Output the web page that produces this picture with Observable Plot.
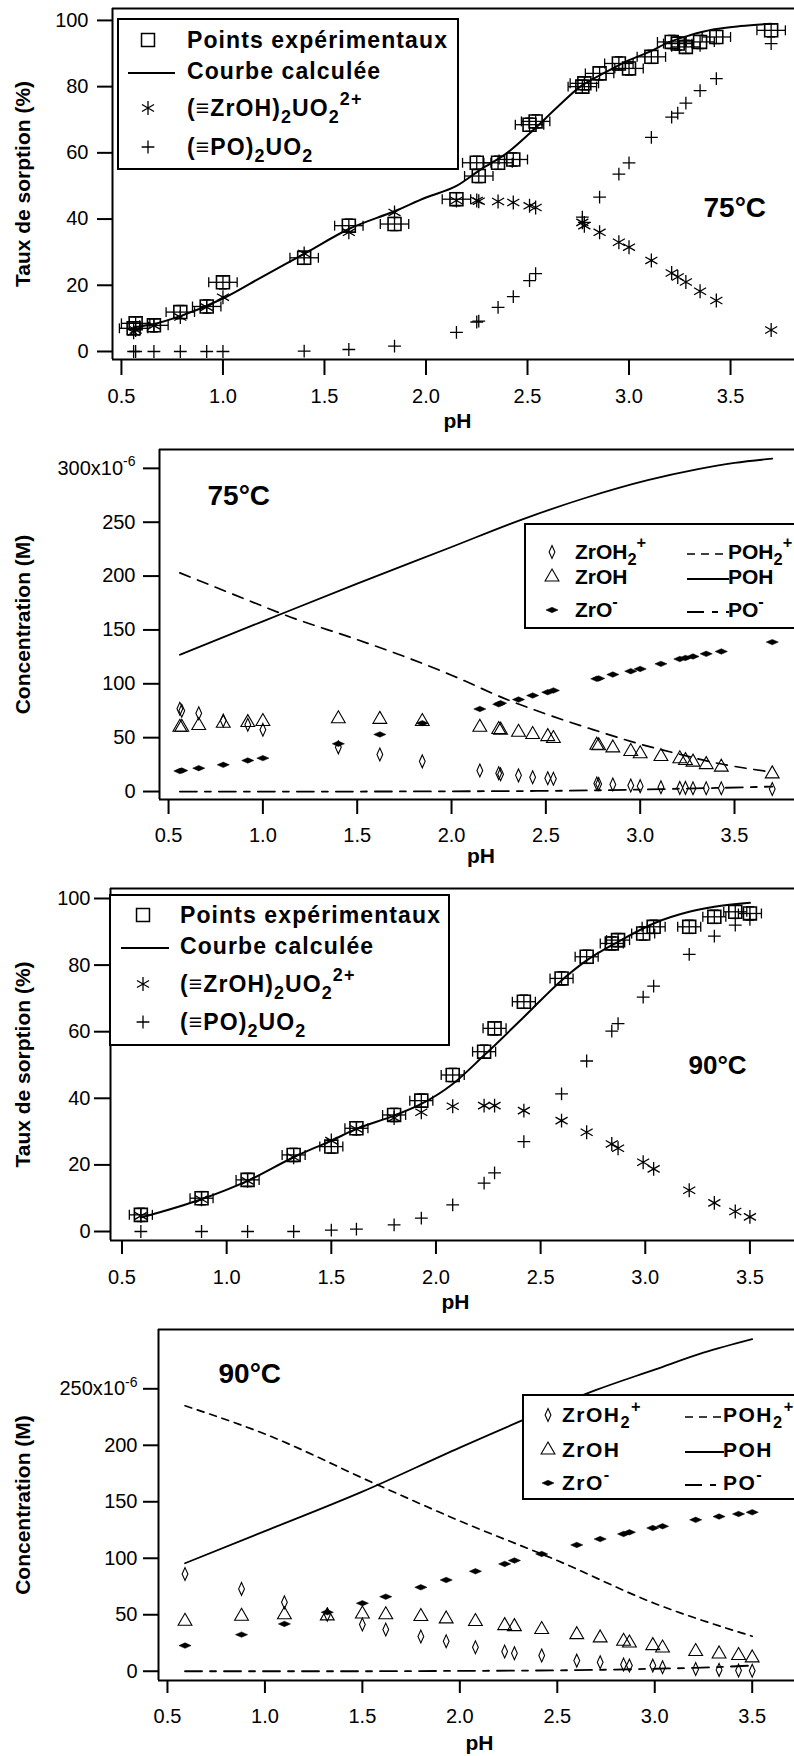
<!DOCTYPE html>
<html><head><meta charset="utf-8">
<script src="https://cdn.jsdelivr.net/npm/d3@7"></script>
<script src="https://cdn.jsdelivr.net/npm/@observablehq/plot@0.6"></script>
<style>
body{margin:0;overflow:hidden;background:#fff}
#wrap{position:relative;width:794px;height:1756px;font-family:"Liberation Sans",Arial,sans-serif;color:#000}
.panel{position:absolute;left:0}
.legend{position:absolute;box-sizing:border-box;border:2px solid #000;background:#fff;overflow:hidden}
.row{position:absolute;height:26px;line-height:26px;white-space:nowrap;font-weight:bold}
.sub{font-size:0.78em;position:relative;top:0.38em}
.sup{font-size:0.78em;position:relative;top:-0.62em}
.sym{position:absolute;width:0;height:0}
</style></head><body><div id="wrap"></div>
<script>
// ---------- tick labels ----------
const xTicks = [0.5, 1.0, 1.5, 2.0, 2.5, 3.0, 3.5];
const sorptionTicks = [0, 20, 40, 60, 80, 100];
const concTicks75 = [0, 50, 100, 150, 200, 250, 300];
const concTicks90 = [0, 50, 100, 150, 200, 250];

// ---------- 75 °C ----------
const pH75 = [0.56,0.57,0.66,0.79,0.92,1.00,1.40,1.62,1.845,2.15,2.25,2.26,2.355,2.43,2.51,2.54,2.77,2.78,2.855,2.95,3.00,3.11,3.21,3.24,3.28,3.35,3.43,3.70];
const exp75 = [7.0,8.5,7.9,11.9,13.6,20.9,28.3,38.0,38.5,46.0,57.0,53.0,57.0,58.0,68.5,69.5,80.0,81.0,84.0,87.0,85.5,89.0,93.5,93.0,92.0,93.5,95.0,97.0];
const zrU75 = [5.8,6.5,7.8,10.4,13.4,16.4,29.6,36.0,42.0,45.6,45.6,45.4,45.3,45.0,44.0,43.5,39.0,38.0,36.0,33.0,31.5,27.5,23.7,22.5,21.0,18.2,15.4,6.5];
const poU75 = [0,0,0,0,0,0,0.1,0.6,1.6,5.8,8.9,9.2,13.3,16.6,21.4,23.5,40.6,39.0,46.6,53.6,57.0,64.7,70.8,72.0,75.0,78.8,82.4,93.0];
const calcPH75 = [0.56,0.66,0.8,1.0,1.2,1.4,1.62,1.85,2.0,2.15,2.27,2.4,2.53,2.65,2.76,2.89,3.0,3.1,3.2,3.3,3.42,3.55,3.7];
const calc75 = [7.3,8.3,10.9,16,22.8,29.5,37,42.5,46.5,50,55,60,67,74,80,84.5,88,90.5,93.5,95.5,97.3,98.3,99];

const zrOH2_75 = [76.8,75.0,72.7,66.0,62.0,57.3,41.0,34.4,28.0,19.5,17.0,16.0,15.0,13.3,12.3,11.8,7.5,7.0,6.5,5.6,5.0,4.0,3.4,3.4,3.0,3.0,3.0,2.4];
const zrOH_75 = [59.7,59.7,61.3,63.4,64.0,65.0,67.5,67.0,65.0,59.6,57.6,57.0,55.0,52.9,51.0,49.2,43.0,42.5,40.5,37.1,35.0,32.5,30.4,28.8,27.3,25.0,22.6,16.4];
const zrO_75 = [19.0,19.5,21.7,24.8,28.8,31.0,44.3,53.0,63.4,76.6,81.0,82.0,85.4,89.1,92.2,93.8,104.6,105.0,108.6,111.7,113.8,118.5,123.0,124.0,125.4,127.8,130.0,138.7];
const pohPH75 = [0.56,1.0,1.5,2.0,2.365,2.7,3.04,3.3,3.5,3.7];
const poh75 = [127,158,193,227,252,272,289,299,305,309];
const poh2PH75 = [0.56,1.0,1.1,1.5,1.74,2.0,2.3,2.5,2.75,3.0,3.2,3.39,3.7];
const poh2_75 = [203,172,165,141,126,108,85,72,57.5,44,35,27,18];
const poPH75 = [0.56,1.0,1.5,2.0,2.5,2.8,3.0,3.2,3.4,3.7];
const po75 = [0,0,0,0.2,0.6,1.2,1.8,2.6,3.3,4.6];

// ---------- 90 °C ----------
const pH90 = [0.59,0.88,1.10,1.32,1.50,1.62,1.80,1.93,2.08,2.23,2.28,2.42,2.60,2.72,2.84,2.87,2.99,3.04,3.21,3.33,3.43,3.50];
const exp90 = [5,10,15.5,23,25.5,31,35,39.3,47,54,61,69,76,82.5,86.5,87.5,89.5,91.5,91.5,94.5,96,95.5];
const zrU90 = [4.7,9.7,15.2,22.3,27.3,30.8,34.1,35.8,37.6,37.8,37.8,36.3,33.3,29.8,26.3,25,20.8,18.8,12.4,8.6,6,4.4];
const poU90 = [0,0,0,0,0.4,0.7,2,4,8,14.5,17.6,27,41.3,51.2,60.2,62.4,70.4,73.7,83.2,88.7,92,93.7];
const calcPH90 = [0.59,0.88,1.10,1.32,1.5,1.62,1.8,1.93,2.08,2.23,2.42,2.6,2.72,2.87,3.04,3.21,3.33,3.5];
const calc90 = [4.2,9.7,15.2,22.3,27.3,30.8,34.8,38.3,44.3,52.9,64.4,75.4,81.4,87,92.5,96,97.5,98.7];

const zrOH2_90 = [86,72.9,61,50,41.3,36.9,30.7,26.5,21.2,17.4,15.9,13.9,9.4,8,5.9,5,5,3.5,2,1.2,0.6,0.5];
const zrOH_90 = [44.2,48.7,50,49,50.7,50,48.4,46.3,44,40.4,39.5,36.9,32.4,29.5,26.5,25,22.7,20.6,17.4,15.3,13.9,11.8];
const zrO_90 = [22.7,32.4,41.9,52.2,60.2,66,74.3,80.8,88.5,95,98,103.8,111.8,117,121.5,123,126.8,128.3,134,136.9,139.2,140.7];
const pohPH90 = [0.59,1.0,1.5,2.0,2.32,2.7,3.0,3.25,3.5];
const poh90 = [95.6,124,159,198,222,249,267,282,294];
const poh2PH90 = [0.59,1.0,1.565,2.0,2.5,3.0,3.5];
const poh2_90 = [235,210,166,133,98,60,31];
const poPH90 = [0.59,1.0,1.5,2.0,2.5,2.8,3.0,3.2,3.5];
const po90 = [0,0,0,0.3,0.8,1.5,2.2,3,5];

// ---------- symbols ----------
const lozenge = {draw(ctx, size){const h=Math.sqrt(size)*0.55,w=h*0.45;ctx.moveTo(0,-h);ctx.lineTo(w,0);ctx.lineTo(0,h);ctx.lineTo(-w,0);ctx.closePath();}};
const flatDiamond = {draw(ctx, size){const w=Math.sqrt(size)*0.52,h=w*0.45;ctx.moveTo(-w,0);ctx.lineTo(0,-h);ctx.lineTo(w,0);ctx.lineTo(0,h);ctx.closePath();}};

const FONT = "'Liberation Sans', Arial, sans-serif";
const pts = (xs, ys) => xs.map((x, i) => ({x, y: ys[i]}));
const wrap = document.getElementById("wrap");

function frameMarks(o) {
  return [
    Plot.ruleY([o.yDomain[0], o.yDomain[1]], {stroke: "black", strokeWidth: 2}),
    Plot.ruleX([o.xDomain[0]], {stroke: "black", strokeWidth: 2}),
    Plot.axisX({ticks: xTicks, tickFormat: d3.format(".1f"), tickSize: o.xts, tickPadding: o.xtp, strokeWidth: 2, label: null}),
    Plot.text(["pH"], {frameAnchor: "bottom", dy: o.pHdy, dx: o.pHdx, lineAnchor: "middle", textAnchor: "middle", fontWeight: "bold", fontSize: 21}),
    Plot.text([o.yLabel], {frameAnchor: "left", rotate: -90, dx: o.yLabDx, textAnchor: "middle", lineAnchor: "middle", fontWeight: "bold", fontSize: 21}),
    Plot.text([o.temp], {frameAnchor: "top-left", dx: o.tDx, dy: o.tDy, textAnchor: "start", lineAnchor: "top", fontWeight: "bold", fontSize: o.tSize})
  ];
}

function sorptionPlot(o) {
  const exp = pts(o.pH, o.exp), zr = pts(o.pH, o.zr), po = pts(o.pH, o.po), calc = pts(o.cPH, o.calc);
  const ex = o.ex, ey = 2, cy = 1.5, cx = 0.02;
  const L = {stroke: "black", strokeWidth: 1.3};
  return Plot.plot({
    width: 794, height: o.height, marginLeft: o.mL, marginRight: 0, marginTop: o.mT, marginBottom: o.mB,
    x: {domain: o.xDomain}, y: {domain: o.yDomain},
    style: {fontFamily: FONT, fontSize: "20px", color: "black", background: "white", overflow: "visible"},
    marks: [
      ...frameMarks(o),
      Plot.axisY({ticks: sorptionTicks, tickSize: o.yts, tickPadding: o.ytp, strokeWidth: 2, label: null}),
      Plot.line(calc, {x: "x", y: "y", stroke: "black", strokeWidth: 2, curve: "monotone-x"}),
      Plot.link(exp, {x1: d => d.x - ex, x2: d => d.x + ex, y1: "y", y2: "y", ...L}),
      Plot.link(exp, {x1: d => d.x - ex, x2: d => d.x - ex, y1: d => d.y - cy, y2: d => d.y + cy, ...L}),
      Plot.link(exp, {x1: d => d.x + ex, x2: d => d.x + ex, y1: d => d.y - cy, y2: d => d.y + cy, ...L}),
      Plot.link(exp, {x1: "x", x2: "x", y1: d => d.y - ey, y2: d => d.y + ey, ...L}),
      Plot.link(exp, {x1: d => d.x - cx, x2: d => d.x + cx, y1: d => d.y - ey, y2: d => d.y - ey, ...L}),
      Plot.link(exp, {x1: d => d.x - cx, x2: d => d.x + cx, y1: d => d.y + ey, y2: d => d.y + ey, ...L}),
      Plot.dot(exp, {x: "x", y: "y", symbol: d3.symbolSquare, r: 7.3, stroke: "black", fill: "none", strokeWidth: 1.6}),
      Plot.dot(zr, {x: "x", y: "y", symbol: d3.symbolAsterisk, r: 6.6, stroke: "black", strokeWidth: 1.3}),
      Plot.dot(po, {x: "x", y: "y", symbol: d3.symbolPlus, r: 4.2, stroke: "black", strokeWidth: 1.3})
    ]
  });
}

function concPlot(o) {
  const top = o.ticks[o.ticks.length - 1];
  const svg = Plot.plot({
    width: 794, height: o.height, marginLeft: o.mL, marginRight: 0, marginTop: o.mT, marginBottom: o.mB,
    x: {domain: o.xDomain}, y: {domain: o.yDomain},
    style: {fontFamily: FONT, fontSize: "20px", color: "black", background: "white", overflow: "visible"},
    marks: [
      ...frameMarks(o),
      Plot.axisY({ticks: o.ticks, tickSize: o.yts, tickPadding: o.ytp, strokeWidth: 2, label: null,
        tickFormat: d => d === top ? `${d}x10` : `${d}`}),
      Plot.line(pts(o.poh2PH, o.poh2), {x: "x", y: "y", stroke: "black", strokeWidth: 1.7, strokeDasharray: o.dash, curve: "monotone-x"}),
      Plot.line(pts(o.pohPH, o.poh), {x: "x", y: "y", stroke: "black", strokeWidth: 1.8, curve: "monotone-x"}),
      Plot.line(pts(o.poPH, o.po), {x: "x", y: "y", stroke: "black", strokeWidth: 1.8, strokeDasharray: "17,8,6,8", curve: "monotone-x"}),
      Plot.dot(pts(o.pH, o.zrOH2), {x: "x", y: "y", symbol: lozenge, r: 6.6, stroke: "black", fill: "none", strokeWidth: 1.1}),
      Plot.dot(pts(o.pH, o.zrOH), {x: "x", y: "y", symbol: d3.symbolTriangle2, r: 6.6, stroke: "black", fill: "none", strokeWidth: 1.1}),
      Plot.dot(pts(o.pH, o.zrO), {x: "x", y: "y", symbol: flatDiamond, r: 6.6, fill: "black", stroke: "black", strokeWidth: 0.5})
    ]
  });
  svg.querySelectorAll("text").forEach(t => {
    if (/x10$/.test(t.textContent)) {
      const ts = document.createElementNS("http://www.w3.org/2000/svg", "tspan");
      ts.setAttribute("dy", "-0.6em");
      ts.setAttribute("font-size", "14");
      ts.textContent = "-6";
      t.appendChild(ts);
    }
  });
  return svg;
}

function addPanel(top, svg) {
  const d = document.createElement("div");
  d.className = "panel"; d.style.top = top + "px";
  d.appendChild(svg); wrap.appendChild(d);
}

// ---------- legends ----------
function symSvg(type, r, fill, stroke, sw) {
  const p = d3.symbol(type, r * r * Math.PI)();
  return `<svg width="30" height="30" viewBox="-15 -15 30 30" style="position:absolute;left:-15px;top:-15px;overflow:visible"><path d="${p}" fill="${fill}" stroke="${stroke}" stroke-width="${sw}"/></svg>`;
}
function lineSvg(x1, x2, cy, dash, sw) {
  return `<svg style="position:absolute;left:${x1}px;top:${cy - 5}px;overflow:visible" width="${x2 - x1}" height="10"><line x1="0" x2="${x2 - x1}" y1="5" y2="5" stroke="black" stroke-width="${sw}" ${dash ? `stroke-dasharray="${dash}"` : ""}/></svg>`;
}
function legend(o) {
  const d = document.createElement("div");
  d.className = "legend";
  Object.assign(d.style, {left: o.left + "px", top: o.top + "px", width: o.width + "px", height: o.height + "px",
    fontSize: o.fontSize + "px", letterSpacing: o.ls + "px"});
  let html = "";
  for (const r of o.rows) {
    if (r.sym) html += `<div class="sym" style="left:${r.sx - 2}px;top:${r.cy - 2}px">${r.sym}</div>`;
    if (r.line) html += r.line;
    html += `<div class="row" style="left:${r.tx - 2}px;top:${r.cy - 2 - 13}px">${r.text}</div>`;
  }
  d.innerHTML = html;
  wrap.appendChild(d);
}

// ---------- panel 1 : sorption 75 °C ----------
addPanel(0, sorptionPlot({
  pH: pH75, exp: exp75, zr: zrU75, po: poU75, cPH: calcPH75, calc: calc75, ex: 0.07,
  height: 437, mL: 112, mT: 8, mB: 78, xDomain: [0.456, 3.815], yDomain: [-2.42, 103.6],
  xts: 16, xtp: 13, yts: 15, ytp: 9, pHdy: 62, pHdx: 4, yLabel: "Taux de sorption (%)", yLabDx: -89,
  temp: "75°C", tDx: 591, tDy: 189, tSize: 28
}));

// ---------- panel 2 : concentrations 75 °C ----------
addPanel(437, concPlot({
  pH: pH75, zrOH2: zrOH2_75, zrOH: zrOH_75, zrO: zrO_75,
  pohPH: pohPH75, poh: poh75, poh2PH: poh2PH75, poh2: poh2_75, poPH: poPH75, po: po75, dash: "11,8",
  ticks: concTicks75, height: 436, mL: 159, mT: 12, mB: 74, xDomain: [0.452, 3.818], yDomain: [-7.4, 317.5],
  xts: 15, xtp: 13, yts: 16, ytp: 8, pHdy: 57, pHdx: 4, yLabel: "Concentration (M)", yLabDx: -136,
  temp: "75°C", tDx: 48, tDy: 36, tSize: 28
}));

// ---------- panel 3 : sorption 90 °C ----------
addPanel(873, sorptionPlot({
  pH: pH90, exp: exp90, zr: zrU90, po: poU90, cPH: calcPH90, calc: calc90, ex: 0.055,
  height: 448, mL: 110, mT: 15, mB: 81, xDomain: [0.445, 3.713], yDomain: [-2.7, 103.0],
  xts: 14, xtp: 15, yts: 16, ytp: 4, pHdy: 62, pHdx: 3, yLabel: "Taux de sorption (%)", yLabDx: -87,
  temp: "90°C", tDx: 578, tDy: 167, tSize: 26
}));

// ---------- panel 4 : concentrations 90 °C ----------
addPanel(1321, concPlot({
  pH: pH90, zrOH2: zrOH2_90, zrOH: zrOH_90, zrO: zrO_90,
  pohPH: pohPH90, poh: poh90, poh2PH: poh2PH90, poh2: poh2_90, poPH: poPH90, po: po90, dash: "7,6",
  ticks: concTicks90, height: 435, mL: 158, mT: 8, mB: 76, xDomain: [0.454, 3.717], yDomain: [-8.2, 302.5],
  xts: 13, xtp: 15, yts: 15, ytp: 6, pHdy: 63, pHdx: 3, yLabel: "Concentration (M)", yLabDx: -135,
  temp: "90°C", tDx: 60, tDy: 34, tSize: 28
}));

// legend texts
const sorpLegendRows = (cys, sx, tx, l1, l2) => [
  {cy: cys[0], sx, tx, sym: symSvg(d3.symbolSquare, 7.3, "none", "black", 1.5), text: "Points expérimentaux"},
  {cy: cys[1], sx, tx, line: lineSvg(l1, l2, cys[1], null, 2), text: "Courbe calculée"},
  {cy: cys[2], sx, tx, sym: symSvg(d3.symbolAsterisk, 6.6, "none", "black", 1.3), text: '(≡ZrOH)<span class="sub">2</span>UO<span class="sub">2</span><span class="sup">2+</span>'},
  {cy: cys[3], sx, tx, sym: symSvg(d3.symbolPlus, 4.2, "none", "black", 1.3), text: '(≡PO)<span class="sub">2</span>UO<span class="sub">2</span>'}
];
const concLegendRows = (cys, sx, tx, l1, l2, lx, dash) => [
  {cy: cys[0], sx, tx, sym: symSvg(lozenge, 6.6, "none", "black", 1.1), text: 'ZrOH<span class="sub">2</span><span class="sup">+</span>'},
  {cy: cys[1], sx, tx, sym: symSvg(d3.symbolTriangle2, 6.6, "none", "black", 1.1), text: "ZrOH"},
  {cy: cys[2], sx, tx, sym: symSvg(flatDiamond, 6.6, "black", "black", 0.5), text: 'ZrO<span class="sup">-</span>'},
  {cy: cys[0], sx: 0, tx: lx, line: lineSvg(l1, l2, cys[0], dash, 1.7), text: 'POH<span class="sub">2</span><span class="sup">+</span>'},
  {cy: cys[1], sx: 0, tx: lx, line: lineSvg(l1, l2, cys[1], null, 1.8), text: "POH"},
  {cy: cys[2], sx: 0, tx: lx, line: lineSvg(l1, l2, cys[2], "17,8,6,8", 1.8), text: 'PO<span class="sup">-</span>'}
];

legend({left: 117, top: 18, width: 342, height: 152, fontSize: 23, ls: 1.1,
  rows: sorpLegendRows([22, 53, 90, 129], 31, 70, 9, 56)});
legend({left: 524, top: 523, width: 290, height: 106, fontSize: 21, ls: 0,
  rows: concLegendRows([28.5, 54, 87], 28, 51, 161, 203, 204, "8,6")});
legend({left: 109, top: 894, width: 341, height: 152, fontSize: 23, ls: 1.1,
  rows: sorpLegendRows([21, 51.5, 90, 128], 34, 71, 10, 58)});
legend({left: 522, top: 1394, width: 290, height: 106, fontSize: 21, ls: 1.5,
  rows: concLegendRows([21, 55.5, 89], 26, 40, 161, 200, 201, "8,6")});
</script></body></html>
